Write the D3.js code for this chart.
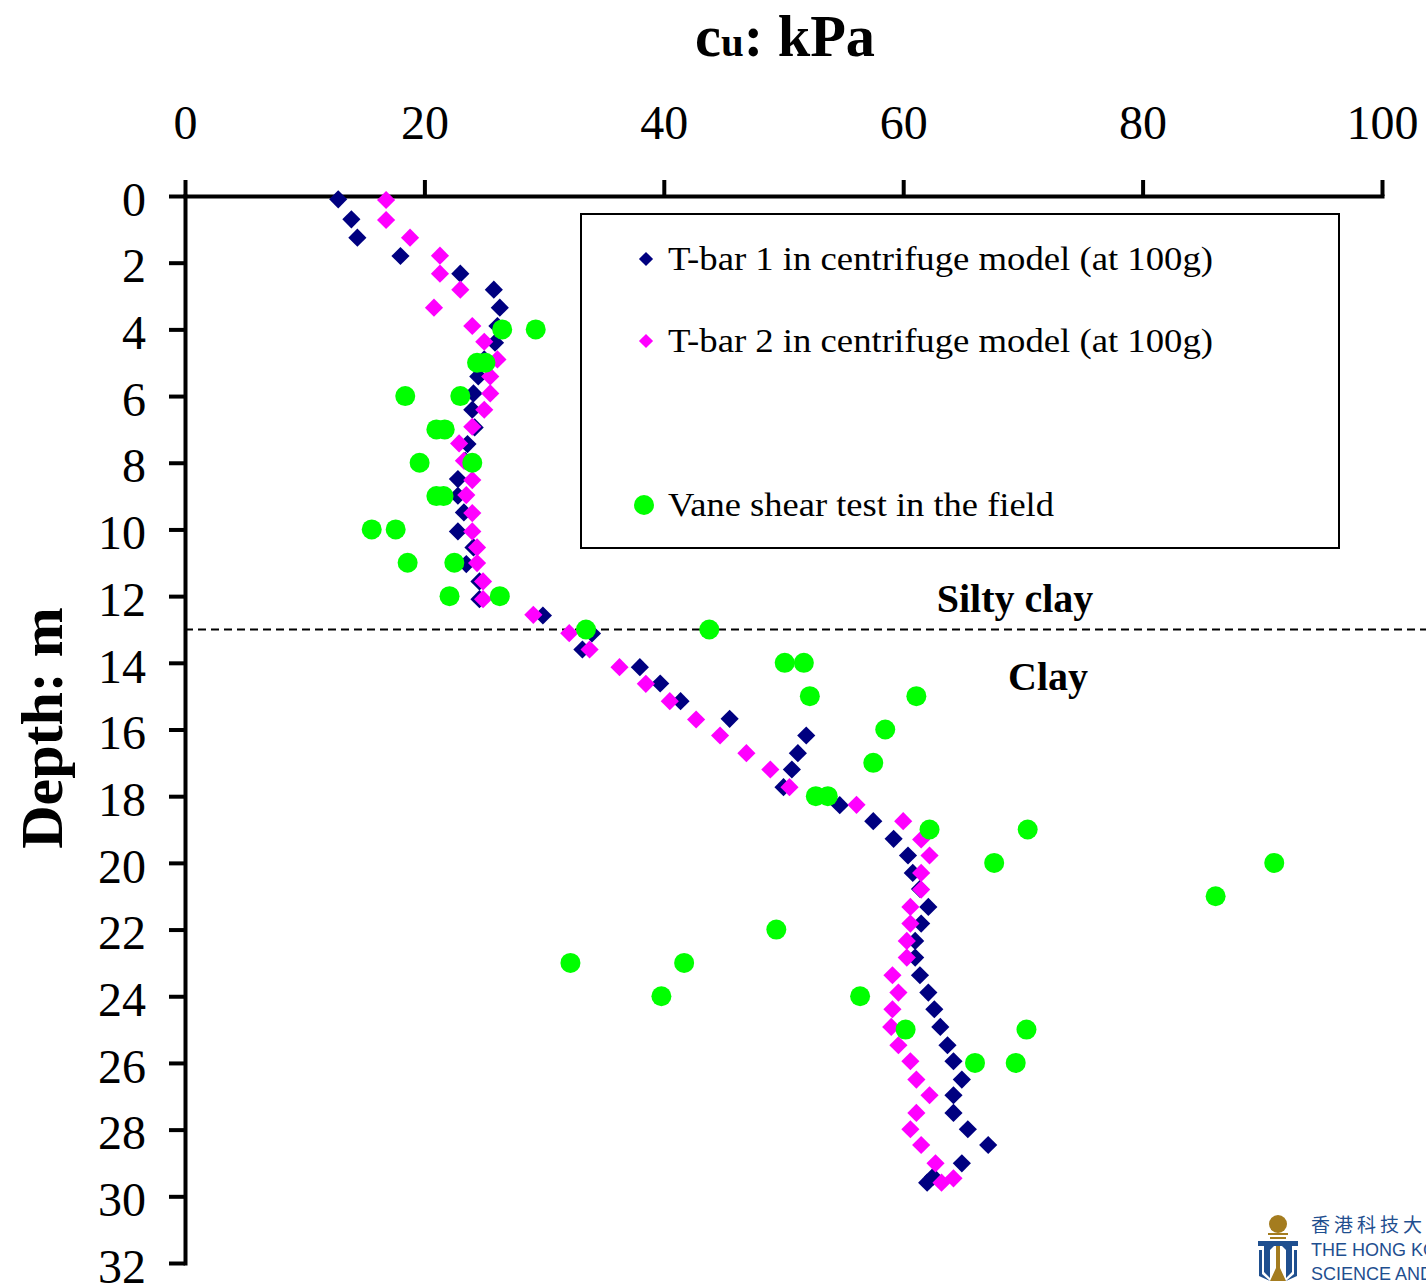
<!DOCTYPE html>
<html>
<head>
<meta charset="utf-8">
<script src="https://cdn.jsdelivr.net/npm/d3@7"></script>
<style>
    body { margin: 0; background: #fff; }
    svg { display: block; }
</style>
</head>
<body>
<svg id="chart" width="1426" height="1286"></svg>
<script>
// T-bar 1 (centrifuge, 100g)
var tbar1Depth = [0.1, 0.7, 1.25, 1.8, 2.33, 2.81, 3.35, 3.9, 4.4, 4.9, 5.41, 5.92, 6.41, 6.94, 7.44, 7.94,
    8.49, 8.99, 9.49, 10.06, 10.54, 11.04, 11.56, 12.09, 12.58, 13.12, 13.6, 14.13, 14.62, 15.15, 15.68,
    16.18, 16.71, 17.2, 17.73, 18.27, 18.75, 19.28, 19.78, 20.3, 20.78, 21.32, 21.82, 22.34, 22.84, 23.37,
    23.89, 24.39, 24.92, 25.47, 25.95, 26.5, 26.97, 27.5, 27.99, 28.46, 29.01, 29.41, 29.59];
var tbar1Cu = [12.8, 13.9, 14.4, 18.0, 23.0, 25.8, 26.3, 26.1, 25.9, 25.0, 24.5, 24.1, 24.0, 24.2, 23.6, 23.4,
    22.8, 22.8, 23.3, 22.8, 24.1, 23.5, 24.6, 24.6, 29.9, 34.0, 33.2, 38.0, 39.7, 41.4, 45.5,
    51.9, 51.2, 50.7, 50.0, 54.7, 57.5, 59.2, 60.4, 60.8, 61.4, 62.1, 61.5, 61.0, 61.0, 61.4,
    62.1, 62.6, 63.1, 63.7, 64.2, 64.9, 64.2, 64.2, 65.4, 67.1, 64.9, 62.5, 62.0];

// T-bar 2 (centrifuge, 100g)
var tbar2Depth = [0.12, 0.72, 1.25, 1.79, 2.33, 2.81, 3.35, 3.9, 4.37, 4.9, 5.41, 5.92, 6.41, 6.92, 7.42, 7.94,
    8.52, 8.97, 9.51, 10.06, 10.54, 11.01, 11.56, 12.09, 12.56, 13.11, 13.6, 14.13, 14.63, 15.15, 15.7,
    16.18, 16.71, 17.2, 17.73, 18.26, 18.75, 19.3, 19.78, 20.3, 20.8, 21.32, 21.82, 22.34, 22.84, 23.37,
    23.89, 24.39, 24.92, 25.47, 25.95, 26.5, 26.97, 27.5, 27.99, 28.46, 29.01, 29.46, 29.59];
var tbar2Cu = [16.8, 16.8, 18.8, 21.3, 21.3, 23.0, 20.8, 24.0, 25.0, 26.1, 25.5, 25.5, 25.0, 24.0, 22.9, 23.3,
    24.0, 23.5, 24.0, 24.0, 24.4, 24.4, 24.9, 24.9, 29.1, 32.1, 33.8, 36.3, 38.5, 40.5, 42.7,
    44.7, 46.9, 48.9, 50.5, 56.1, 60.0, 61.5, 62.2, 61.5, 61.5, 60.6, 60.6, 60.3, 60.3, 59.1,
    59.6, 59.1, 59.0, 59.6, 60.6, 61.1, 62.2, 61.1, 60.6, 61.5, 62.7, 64.2, 63.2];

// field vane shear test
var vaneDepth = [4, 4, 5, 5, 6, 6, 7, 7, 8, 8, 9, 9, 10, 10, 11, 11, 12, 12, 13, 13, 14, 14, 15, 15,
    16, 17, 18, 18, 19, 19, 20, 20, 21, 22, 23, 23, 24, 24, 25, 25, 26, 26];
var vaneCu = [26.5, 29.3, 24.4, 25.1, 18.4, 23.0, 21.0, 21.7, 19.6, 24.0, 21.0, 21.6, 15.6, 17.6, 18.6, 22.5,
    22.1, 26.3, 33.5, 43.8, 50.1, 51.7, 52.2, 61.1, 58.5, 57.5, 52.7, 53.7, 62.2, 70.4, 67.6, 91.0,
    86.1, 49.4, 32.2, 41.7, 39.8, 56.4, 60.2, 70.3, 66.0, 69.4];

var xTicks = [0, 20, 40, 60, 80, 100];
var yTicks = [0, 2, 4, 6, 8, 10, 12, 14, 16, 18, 20, 22, 24, 26, 28, 30, 32];
var layerBoundary = 13;
var seriesNames = ["T-bar 1 in centrifuge model (at 100g)", "T-bar 2 in centrifuge model (at 100g)",
    "Vane shear test in the field"];

(function() {
    'use strict';

    var serif = "'Liberation Serif', 'Times New Roman', serif";
    var svg = d3.select('#chart');

    var x = d3.scaleLinear().domain([0, 100]).range([185, 1382]);
    var y = d3.scaleLinear().domain([0, 32]).range([196, 1263]);

    function zip(ds, vs) {
        return ds.map(function(d, i) { return { depth: d, cu: vs[i] }; });
    }

    // axes
    var xAxis = d3.axisTop(x).tickValues(xTicks).tickSizeInner(16).tickSizeOuter(0).tickPadding(41);
    var yAxis = d3.axisLeft(y).tickValues(yTicks).tickSizeInner(16).tickSizeOuter(0).tickPadding(23);

    var gx = svg.append('g').attr('transform', 'translate(0,' + y(0) + ')').call(xAxis);
    var gy = svg.append('g').attr('transform', 'translate(' + x(0) + ',0)').call(yAxis);

    [gx, gy].forEach(function(g) {
        g.select('.domain').attr('stroke', '#000').attr('stroke-width', 4).attr('stroke-linecap', 'square');
        g.selectAll('.tick line').attr('stroke', '#000').attr('stroke-width', 4);
        g.selectAll('.tick text')
            .attr('fill', '#000')
            .style('font-family', serif)
            .style('font-size', '48px');
    });
    gx.selectAll('.tick text').attr('dy', '0em');
    gy.selectAll('.tick text').attr('dy', '0.4em');

    // layer boundary
    svg.append('line')
        .attr('x1', x(0)).attr('x2', 1426)
        .attr('y1', y(layerBoundary)).attr('y2', y(layerBoundary))
        .attr('stroke', '#000').attr('stroke-width', 2)
        .attr('stroke-dasharray', '8,5');

    svg.append('text')
        .attr('x', 1015).attr('y', 612)
        .attr('text-anchor', 'middle')
        .style('font-family', serif).style('font-size', '40px').style('font-weight', 'bold')
        .text('Silty clay');
    svg.append('text')
        .attr('x', 1048).attr('y', 690)
        .attr('text-anchor', 'middle')
        .style('font-family', serif).style('font-size', '40px').style('font-weight', 'bold')
        .text('Clay');

    // markers
    var diamond = d3.symbol().type(d3.symbolSquare).size(165);

    svg.append('g').selectAll('path')
        .data(zip(tbar1Depth, tbar1Cu))
        .enter().append('path')
        .attr('d', diamond)
        .attr('transform', function(d) { return 'translate(' + x(d.cu) + ',' + y(d.depth) + ') rotate(45)'; })
        .attr('fill', '#000080');

    svg.append('g').selectAll('path')
        .data(zip(tbar2Depth, tbar2Cu))
        .enter().append('path')
        .attr('d', diamond)
        .attr('transform', function(d) { return 'translate(' + x(d.cu) + ',' + y(d.depth) + ') rotate(45)'; })
        .attr('fill', '#ff00ff');

    svg.append('g').selectAll('circle')
        .data(zip(vaneDepth, vaneCu))
        .enter().append('circle')
        .attr('cx', function(d) { return x(d.cu); })
        .attr('cy', function(d) { return y(d.depth); })
        .attr('r', 10)
        .attr('fill', '#00ff00');

    // legend
    var legend = svg.append('g');
    legend.append('rect')
        .attr('x', 581).attr('y', 214).attr('width', 758).attr('height', 334)
        .attr('fill', '#fff').attr('stroke', '#000').attr('stroke-width', 2);

    var legendRows = [
        { name: seriesNames[0], cy: 259, kind: 'diamond', color: '#000080', w: 545 },
        { name: seriesNames[1], cy: 341, kind: 'diamond', color: '#ff00ff', w: 545 },
        { name: seriesNames[2], cy: 505, kind: 'circle', color: '#00ff00', w: 386 }
    ];
    legendRows.forEach(function(r) {
        if (r.kind === 'diamond') {
            legend.append('path')
                .attr('d', d3.symbol().type(d3.symbolSquare).size(100)())
                .attr('transform', 'translate(646,' + r.cy + ') rotate(45)')
                .attr('fill', r.color);
        } else {
            legend.append('circle').attr('cx', 644).attr('cy', r.cy).attr('r', 10).attr('fill', r.color);
        }
        legend.append('text')
            .attr('x', 668).attr('y', r.cy + 11)
            .attr('textLength', r.w).attr('lengthAdjust', 'spacingAndGlyphs')
            .style('font-family', serif).style('font-size', '34px')
            .text(r.name);
    });

    // titles
    var title = svg.append('text')
        .attr('x', 785).attr('y', 56)
        .attr('text-anchor', 'middle')
        .attr('textLength', 180).attr('lengthAdjust', 'spacingAndGlyphs')
        .style('font-family', serif).style('font-weight', 'bold').style('font-size', '60px');
    title.append('tspan').text('c');
    title.append('tspan').style('font-size', '42px').text('u');
    title.append('tspan').text(': kPa');

    svg.append('text')
        .attr('transform', 'translate(62,728) rotate(-90)')
        .attr('text-anchor', 'middle')
        .style('font-family', serif).style('font-weight', 'bold').style('font-size', '60px')
        .text('Depth: m');

    // university logo (bottom right, cut by the edge)
    var logo = svg.append('g');
    var blue = '#1f4f8f', gold = '#a47c1f';
    logo.append('circle').attr('cx', 1278).attr('cy', 1224).attr('r', 9).attr('fill', gold);
    logo.append('rect').attr('x', 1268).attr('y', 1233).attr('width', 20).attr('height', 2).attr('fill', gold);
    logo.append('rect').attr('x', 1270).attr('y', 1237).attr('width', 16).attr('height', 2).attr('fill', gold);
    logo.append('path')
        .attr('d', 'M1258,1241 L1298,1241 L1298,1246 L1292,1246 L1292,1272 L1286,1278 L1286,1250 L1282,1246 ' +
            'L1274,1246 L1270,1250 L1270,1278 L1264,1272 L1264,1246 L1258,1246 Z')
        .attr('fill', blue);
    logo.append('path')
        .attr('d', 'M1259,1250 L1262,1250 L1262,1274 L1270,1281 L1259,1276 Z M1297,1250 L1294,1250 L1294,1274 L1286,1281 L1297,1276 Z')
        .attr('fill', blue);
    logo.append('path')
        .attr('d', 'M1276,1246 L1280,1246 L1280,1268 L1286,1281 L1270,1281 L1276,1268 Z')
        .attr('fill', gold);
    logo.append('text').attr('x', 1311).attr('y', 1232)
        .style('font-family', "'Noto Sans CJK TC', 'Noto Sans CJK SC', sans-serif")
        .style('font-size', '19px').style('letter-spacing', '4px').attr('fill', blue)
        .text('香港科技大學');
    logo.append('text').attr('x', 1311).attr('y', 1256)
        .style('font-family', "'Liberation Sans', Arial, sans-serif")
        .style('font-size', '18px').attr('fill', blue)
        .text('THE HONG KONG UNIVERSITY OF');
    logo.append('text').attr('x', 1311).attr('y', 1280)
        .style('font-family', "'Liberation Sans', Arial, sans-serif")
        .style('font-size', '18px').attr('fill', blue)
        .text('SCIENCE AND TECHNOLOGY');
})();
</script>
</body>
</html>
